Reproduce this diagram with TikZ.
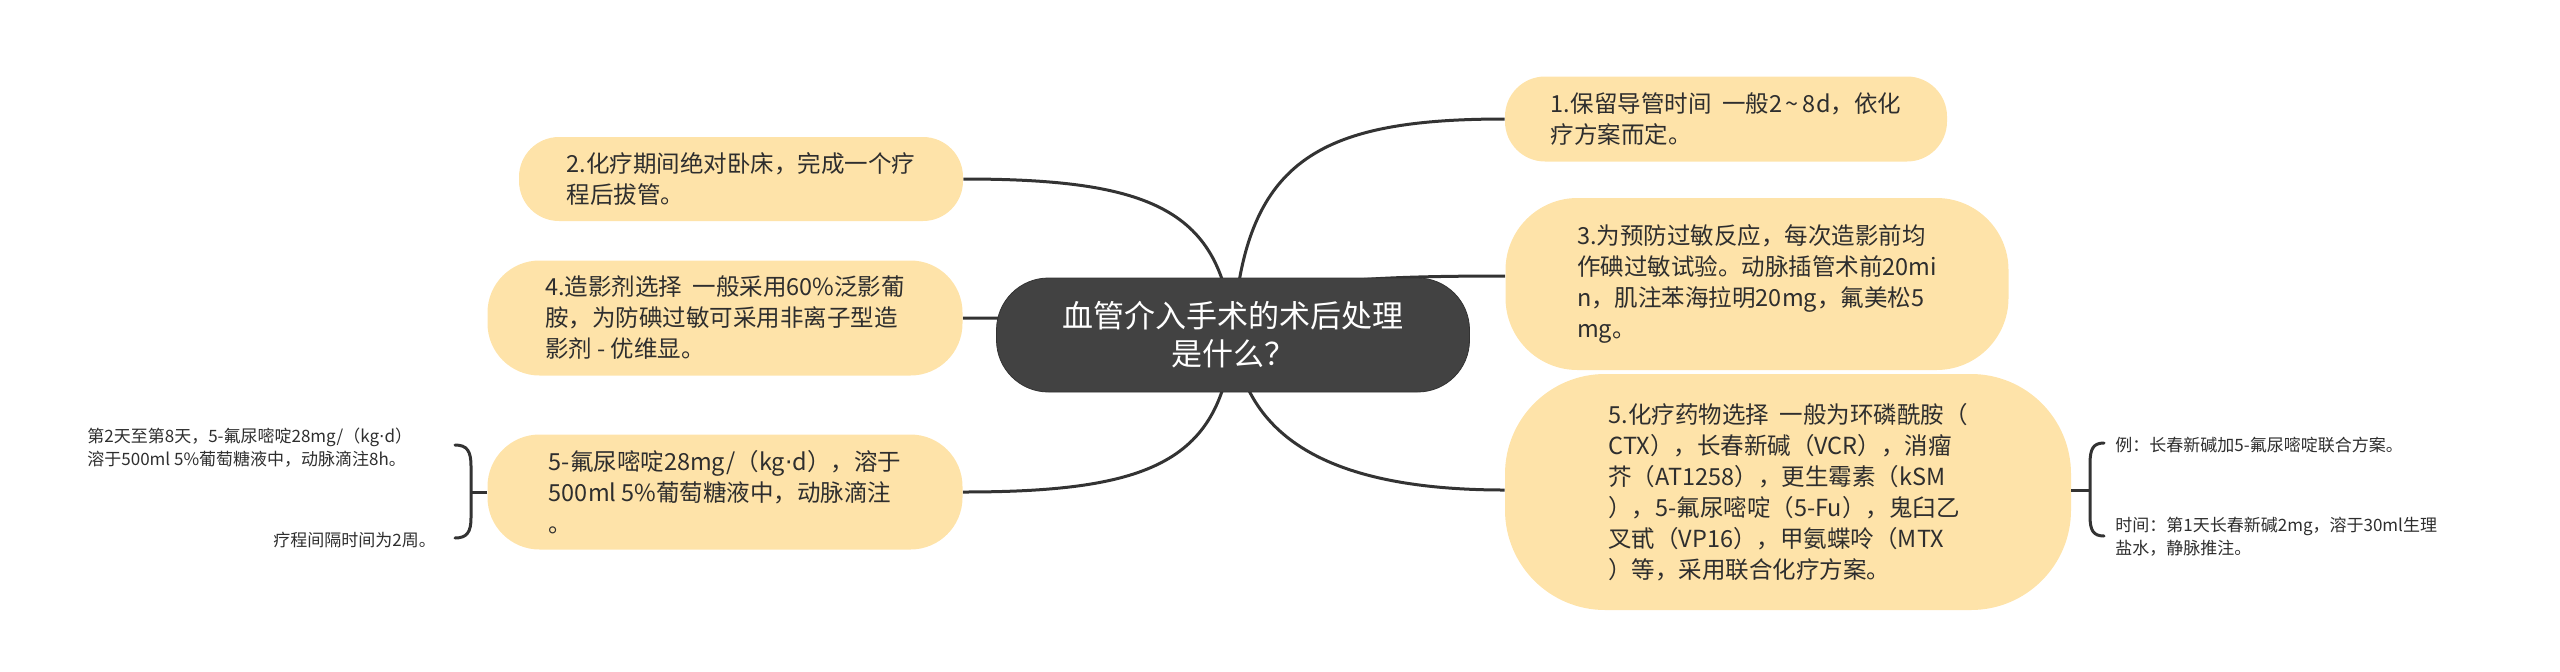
\documentclass[tikz,border=0pt]{standalone}
\usepackage{fontspec}
\setmainfont{Noto Sans CJK SC}
\newfontfamily\dotfont{DejaVu Sans}
\usetikzlibrary{backgrounds}
\definecolor{topicfill}{HTML}{FEE3A9}
\definecolor{rootfill}{HTML}{424242}
\definecolor{inkgray}{HTML}{2E2E2E}
\definecolor{linegray}{HTML}{333333}
\newcommand{\mdot}{{\dotfont ·}}
\tikzset{
  topic/.style={fill=topicfill, text=inkgray, align=left, inner sep=0pt,
    font=\fontsize{11.75pt}{15.5pt}\selectfont},
  leaf/.style={text=inkgray, align=left, inner sep=0pt, anchor=west,
    font=\fontsize{8.5pt}{11.5pt}\selectfont},
  branch/.style={draw=linegray, line width=1.5pt},
}

\begin{document}
\begin{tikzpicture}[x=0.5pt,y=-0.5pt]
\useasboundingbox (0,0) rectangle (2560,671);

\node[fill=rootfill, draw=black!80, text=white, align=center, inner sep=0pt, rounded corners=26pt,
  minimum width=236.5pt, minimum height=57pt, font=\fontsize{15.5pt}{19pt}\selectfont]
  (root) at (1233,335) {血管介入手术的术后处理\\是什么？};

\node[topic, minimum width=221pt, minimum height=42.5pt, rounded corners=20pt] (keep) at (1726,119)
  {1.保留导管时间~~一般2\,\textasciitilde\,8d，依化\\疗方案而定。};
\node[topic, minimum width=222pt, minimum height=42pt, rounded corners=20pt] (bed) at (741,179)
  {2.化疗期间绝对卧床，完成一个疗\\程后拔管。};
\node[topic, minimum width=251.5pt, minimum height=86pt, rounded corners=36pt] (allergy) at (1757,284)
  {3.为预防过敏反应，每次造影前均\\作碘过敏试验。动脉插管术前20mi\\n，肌注苯海拉明20mg，氟美松5\\mg。};
\node[topic, minimum width=237.5pt, minimum height=57.5pt, rounded corners=26pt] (contrast) at (725,318)
  {4.造影剂选择~~一般采用60\%泛影葡\\胺，为防碘过敏可采用非离子型造\\影剂 - 优维显。};
\node[topic, minimum width=237.5pt, minimum height=57.5pt, rounded corners=26pt] (fu) at (725,492)
  {5-氟尿嘧啶28mg/（kg\mdot d），溶于\\500ml 5\%葡萄糖液中，动脉滴注\\。};
\node[topic, minimum width=283pt, minimum height=118pt, rounded corners=50pt] (drug) at (1788,492)
  {5.化疗药物选择~~一般为环磷酰胺（\\CTX），长春新碱（VCR），消瘤\\芥（AT1258），更生霉素（kSM\\），5-氟尿嘧啶（5-Fu），鬼臼乙\\叉甙（VP16），甲氨蝶呤（MTX\\）等，采用联合化疗方案。};

\node[leaf] (days) at (87,448) {第2天至第8天，5-氟尿嘧啶28mg/（kg\mdot d）\\溶于500ml 5\%葡萄糖液中，动脉滴注8h。};
\node[leaf] (gap) at (273,540) {疗程间隔时间为2周。};
\node[leaf] (eg) at (2115,445) {例：长春新碱加5-氟尿嘧啶联合方案。};
\node[leaf] (time) at (2115,537) {时间：第1天长春新碱2mg，溶于30ml生理\\盐水，静脉推注。};

\coordinate (lbrace) at (471,492);
\coordinate (rbrace) at (2090,490);

\begin{scope}[on background layer]
\draw[branch] (root.center) .. controls (1222,210) and (1152,179) .. (bed.east);
\draw[branch] (root.center) .. controls (1222,321) and (1152,318) .. (contrast.east);
\draw[branch] (root.center) .. controls (1222,461) and (1152,492) .. (fu.east);
\draw[branch] (root.center) .. controls (1244,162) and (1315,119) .. (keep.west);
\draw[branch] (root.center) .. controls (1244,286) and (1314,276) .. ([yshift=4pt]allergy.west);
\draw[branch] (root.center) .. controls (1244,428) and (1314,490) .. ([yshift=1pt]drug.west);
\end{scope}

\draw[branch] ([yshift=1pt]drug.east) -- (rbrace);
\draw[branch] (fu.west) -- (lbrace);
\draw[branch, line cap=round] (455,445) .. controls (467,445) and (471,451) .. (471,466) -- (471,518)
  .. controls (471,532) and (467,538) .. (455,538);
\draw[branch, line cap=round] (2104,443) .. controls (2093,443) and (2090,449) .. (2090,464) -- (2090,516)
  .. controls (2090,530) and (2093,536) .. (2104,536);
\end{tikzpicture}
\end{document}
